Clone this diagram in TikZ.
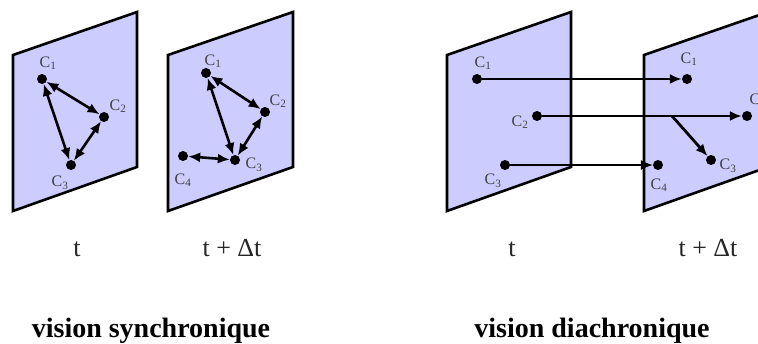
\documentclass[tikz,border=0pt]{standalone}
\usepackage{fontspec}
\setmainfont{Liberation Serif}
\usetikzlibrary{arrows.meta}
\begin{document}
\begin{tikzpicture}[x=1pt,y=-1pt,
  panel/.style={fill={rgb,255:red,204;green,204;blue,255}, draw=black, line width=2.6pt, line join=miter},
  dot/.style={circle, fill=black, inner sep=0pt, minimum size=10pt},
  clab/.style={font=\fontsize{16}{16}\selectfont, text=black!75, inner sep=0pt},
  tlab/.style={font=\fontsize{26}{26}\selectfont, text=black!85, anchor=base, inner sep=0pt},
  vlab/.style={font=\fontsize{28}{28}\selectfont\bfseries, anchor=base, inner sep=0pt},
  biarr/.style={line width=2.6pt, {Latex[length=12pt,width=10pt]}-{Latex[length=12pt,width=10pt]}},
  onearr/.style={line width=2.8pt, -{Latex[length=12pt,width=10pt]}},
  thinarr/.style={line width=1.5pt, -{Latex[length=12pt,width=10pt]}}
]
\useasboundingbox (0,0) rectangle (758,343);
\clip (0,0) rectangle (758,343);

% panels
\draw[panel] (13,55) -- (137,12) -- (137,167) -- (13,211) -- cycle;
\draw[panel] (168,55) -- (293,12) -- (293,167) -- (168,211) -- cycle;
\draw[panel] (447,55) -- (571,12) -- (571,167) -- (447,211) -- cycle;
\draw[panel] (644,55) -- (768,12) -- (768,167) -- (644,211) -- cycle;

% panel 1 : t (synchronique)
\node[dot] (a1) at (42,79) {};
\node[dot] (a2) at (104,117) {};
\node[dot] (a3) at (71,165) {};
\node[clab] (la1) at (48,63) {C\textsubscript{1}};
\node[clab] (la2) at (118,106) {C\textsubscript{2}};
\node[clab] (la3) at (60,183) {C\textsubscript{3}};
\draw[biarr] (a1) -- (a2);
\draw[biarr] (a1) -- (a3);
\draw[biarr] (a2) -- (a3);

% panel 2 : t + dt (synchronique)
\node[dot] (b1) at (206,73) {};
\node[dot] (b2) at (265,112) {};
\node[dot] (b3) at (235,160) {};
\node[dot] (b4) at (183,156) {};
\node[clab] (lb1) at (213,61) {C\textsubscript{1}};
\node[clab] (lb2) at (278,101) {C\textsubscript{2}};
\node[clab] (lb3) at (254,165) {C\textsubscript{3}};
\node[clab] (lb4) at (183,180) {C\textsubscript{4}};
\draw[biarr] (b1) -- (b2);
\draw[biarr] (b1) -- (b3);
\draw[biarr] (b2) -- (b3);
\draw[biarr] (b4) -- (b3);

% panel 3 : t (diachronique)
\node[dot] (c1) at (477,79) {};
\node[dot] (c2) at (537,116) {};
\node[dot] (c3) at (505,165) {};
\node[clab] (lc1) at (483,63) {C\textsubscript{1}};
\node[clab] (lc2) at (520,122) {C\textsubscript{2}};
\node[clab] (lc3) at (493,181) {C\textsubscript{3}};

% panel 4 : t + dt (diachronique)
\node[dot] (d1) at (687,79) {};
\node[dot] (d2) at (747,116) {};
\node[dot] (d3) at (711,160) {};
\node[dot] (d4) at (658,165) {};
\node[clab] (ld1) at (689,59) {C\textsubscript{1}};
\node[clab] (ld2) at (758,100) {C\textsubscript{2}};
\node[clab] (ld3) at (728,166) {C\textsubscript{3}};
\node[clab] (ld4) at (659,185) {C\textsubscript{4}};

\coordinate (split) at (672,116);
\draw[onearr] (c1) -- (d1);
\draw[onearr] (c2) -- (d2);
\draw[onearr] (split) -- (d3);
\draw[thinarr] (c3) -- (d4);

% captions
\node[tlab] (t1) at (77,256) {t};
\node[tlab] (t2) at (232,256) {t + Δt};
\node[tlab] (t3) at (512,256) {t};
\node[tlab] (t4) at (708,256) {t + Δt};
\node[vlab] (v1) at (151,337) {vision synchronique};
\node[vlab] (v2) at (592,337) {vision diachronique};
\end{tikzpicture}
\end{document}
